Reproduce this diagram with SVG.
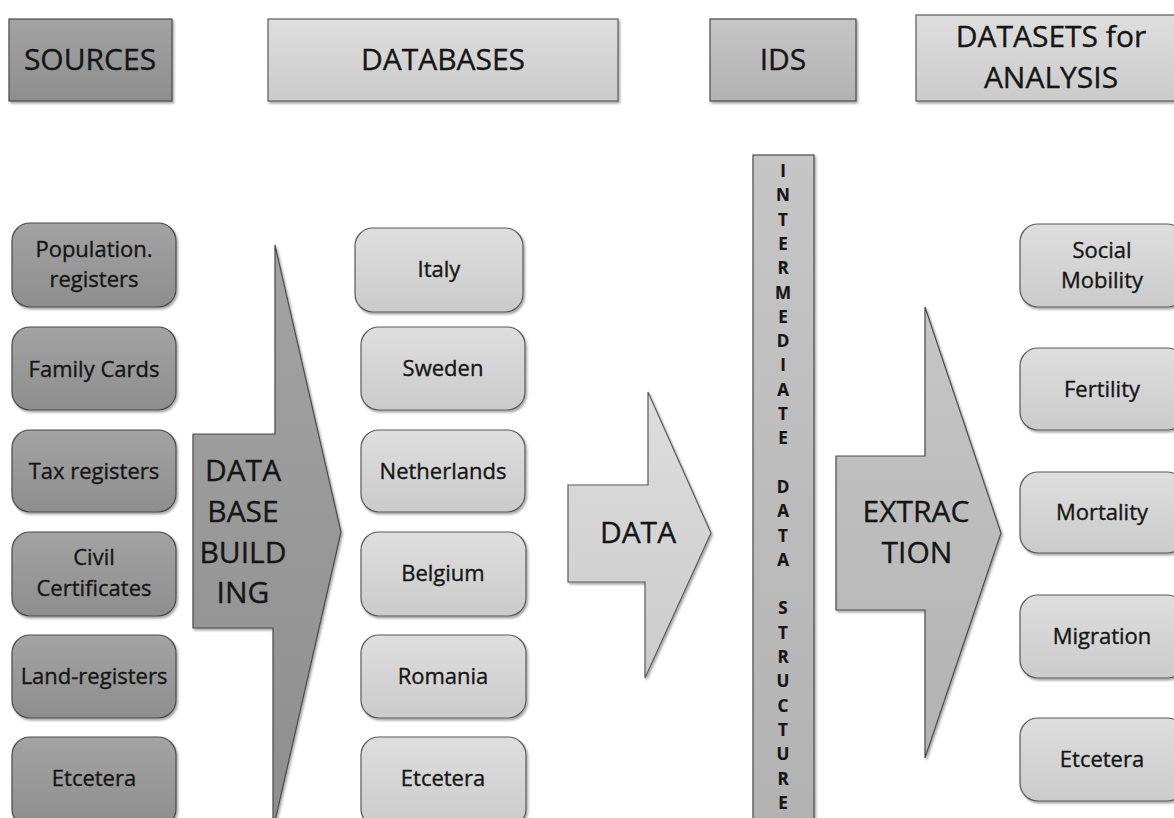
<svg xmlns="http://www.w3.org/2000/svg" width="1174" height="818" viewBox="0 0 1174 818">
<defs>
<linearGradient id="gDark" x1="0" y1="0" x2="0" y2="1"><stop offset="0" stop-color="#a3a3a3"/><stop offset="1" stop-color="#8e8e8e"/></linearGradient>
<linearGradient id="gLight" x1="0" y1="0" x2="0" y2="1"><stop offset="0" stop-color="#dedede"/><stop offset="1" stop-color="#cbcbcb"/></linearGradient>
<linearGradient id="gMid" x1="0" y1="0" x2="0" y2="1"><stop offset="0" stop-color="#c6c6c6"/><stop offset="1" stop-color="#b2b2b2"/></linearGradient>
<filter id="sh" x="-5%" y="-5%" width="115%" height="115%"><feDropShadow dx="1.5" dy="2" stdDeviation="1.2" flood-color="#000" flood-opacity="0.35"/></filter>
</defs>
<style>
text{font-family:"Open Sans","Liberation Sans",sans-serif;fill:#151515;stroke:#151515;stroke-width:0.35;text-anchor:middle}
.hdr{font-size:30px}
.box{font-size:22px}
.big{font-size:30px}
.vt{font-size:17px;font-weight:bold;stroke-width:0.2}
.dark{fill:url(#gDark);stroke:#4a4a4a;stroke-width:1.2;filter:url(#sh)}
.light{fill:url(#gLight);stroke:#5a5a5a;stroke-width:1.2;filter:url(#sh)}
.mid{fill:url(#gMid);stroke:#4a4a4a;stroke-width:1.2;filter:url(#sh)}
</style>
<rect width="1174" height="818" fill="#ffffff"/>

<g id="header-sources"><rect class="dark" x="9" y="19" width="163" height="82"/><text class="hdr" x="90" y="70">SOURCES</text></g>
<g id="header-databases"><rect class="light" x="268" y="19" width="350" height="82"/><text class="hdr" x="443" y="70">DATABASES</text></g>
<g id="header-ids"><rect class="mid" x="710" y="19" width="146" height="82"/><text class="hdr" x="783" y="70">IDS</text></g>
<g id="header-datasets"><rect class="light" x="916" y="15" width="270" height="86"/><text class="hdr" x="1051" y="47">DATASETS for</text><text class="hdr" x="1051" y="88">ANALYSIS</text></g>

<g id="src-population"><rect class="dark" x="12" y="223" width="164" height="84" rx="18"/><text class="box" x="94" y="257">Population.</text><text class="box" x="94" y="287">registers</text></g>
<g id="src-family"><rect class="dark" x="12" y="327" width="164" height="83" rx="18"/><text class="box" x="94" y="377">Family Cards</text></g>
<g id="src-tax"><rect class="dark" x="12" y="430" width="164" height="82" rx="18"/><text class="box" x="94" y="479">Tax registers</text></g>
<g id="src-civil"><rect class="dark" x="12" y="532" width="164" height="84" rx="18"/><text class="box" x="94" y="565">Civil</text><text class="box" x="94" y="596">Certificates</text></g>
<g id="src-land"><rect class="dark" x="12" y="635" width="164" height="83" rx="18"/><text class="box" x="94" y="684">Land-registers</text></g>
<g id="src-etc"><rect class="dark" x="12" y="737" width="164" height="90" rx="18"/><text class="box" x="94" y="786">Etcetera</text></g>

<g id="db-italy"><rect class="light" x="355" y="228" width="168" height="84" rx="18"/><text class="box" x="439" y="277">Italy</text></g>
<g id="db-sweden"><rect class="light" x="361" y="327" width="164" height="83" rx="18"/><text class="box" x="443" y="376">Sweden</text></g>
<g id="db-netherlands"><rect class="light" x="361" y="430" width="164" height="82" rx="18"/><text class="box" x="443" y="479">Netherlands</text></g>
<g id="db-belgium"><rect class="light" x="361" y="532" width="165" height="84" rx="18"/><text class="box" x="443" y="581">Belgium</text></g>
<g id="db-romania"><rect class="light" x="361" y="635" width="165" height="83" rx="18"/><text class="box" x="443" y="684">Romania</text></g>
<g id="db-etc"><rect class="light" x="361" y="737" width="165" height="90" rx="18"/><text class="box" x="443" y="786">Etcetera</text></g>

<g id="ids-bar"><rect class="mid" x="753" y="155" width="61" height="680"/>
<text class="vt"><tspan x="783" y="177">I</tspan><tspan x="783" y="201.3">N</tspan><tspan x="783" y="225.6">T</tspan><tspan x="783" y="249.9">E</tspan><tspan x="783" y="274.2">R</tspan><tspan x="783" y="298.5">M</tspan><tspan x="783" y="322.8">E</tspan><tspan x="783" y="347.1">D</tspan><tspan x="783" y="371.4">I</tspan><tspan x="783" y="395.7">A</tspan><tspan x="783" y="420">T</tspan><tspan x="783" y="444.3">E</tspan><tspan x="783" y="492.9">D</tspan><tspan x="783" y="517.2">A</tspan><tspan x="783" y="541.5">T</tspan><tspan x="783" y="565.8">A</tspan><tspan x="783" y="614.4">S</tspan><tspan x="783" y="638.7">T</tspan><tspan x="783" y="663">R</tspan><tspan x="783" y="687.3">U</tspan><tspan x="783" y="711.6">C</tspan><tspan x="783" y="735.9">T</tspan><tspan x="783" y="760.2">U</tspan><tspan x="783" y="784.5">R</tspan><tspan x="783" y="808.8">E</tspan></text></g>

<g id="ds-social"><rect class="light" x="1020" y="224" width="165" height="83" rx="18"/><text class="box" x="1102" y="258">Social</text><text class="box" x="1102" y="288">Mobility</text></g>
<g id="ds-fertility"><rect class="light" x="1020" y="348" width="165" height="82" rx="18"/><text class="box" x="1102" y="397">Fertility</text></g>
<g id="ds-mortality"><rect class="light" x="1020" y="472" width="165" height="81" rx="18"/><text class="box" x="1102" y="520">Mortality</text></g>
<g id="ds-migration"><rect class="light" x="1020" y="595" width="165" height="83" rx="18"/><text class="box" x="1102" y="644">Migration</text></g>
<g id="ds-etc"><rect class="light" x="1020" y="718" width="165" height="83" rx="18"/><text class="box" x="1102" y="767">Etcetera</text></g>

<g id="connectors">
<g id="arrow-building"><polygon class="dark" points="275,245 341,532 273,830 273,628 193,628 193,434 275,434"/><text class="big" x="243" y="481">DATA</text><text class="big" x="243" y="522">BASE</text><text class="big" x="243" y="563">BUILD</text><text class="big" x="243" y="603">ING</text></g>
<g id="arrow-data"><polygon class="light" points="648,392 711,533 645,678 645,582 568,582 568,485 648,485"/><text class="big" x="638" y="543">DATA</text></g>
<g id="arrow-extraction"><polygon class="mid" points="925,307 1001,533 925,758 925,610 836,610 836,456 925,456"/><text class="big" x="916" y="522">EXTRAC</text><text class="big" x="917" y="563">TION</text></g>
</g>
</svg>
